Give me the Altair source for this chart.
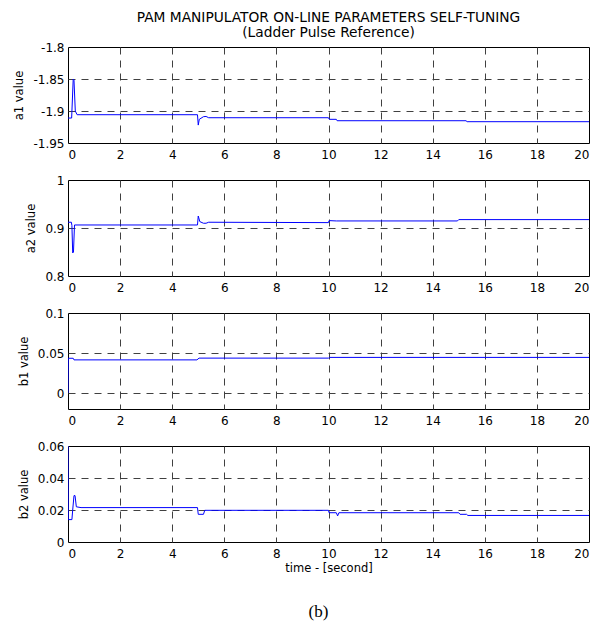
import altair as alt
import pandas as pd

# Time grid and tick labels
x_ticks = [0, 2, 4, 6, 8, 10, 12, 14, 16, 18, 20]

# a1 parameter estimate
a1_t = [0, 0.14, 0.2, 0.23, 0.28, 0.35, 4.97, 5.0, 5.04, 5.2, 5.3, 5.4, 10.0, 10.03, 10.3, 10.33, 15.28, 15.32, 20]
a1_v = [-1.911, -1.911, -1.85, -1.852, -1.9, -1.9058, -1.9058, -1.922, -1.913, -1.9089, -1.9085, -1.9105, -1.9105, -1.913, -1.913, -1.9152, -1.9152, -1.9167, -1.9167]

# a2 parameter estimate
a2_t = [0, 0.13, 0.15, 0.18, 0.21, 0.25, 4.97, 5.0, 5.06, 5.2, 5.3, 5.4, 10.0, 10.02, 10.3, 14.95, 15.0, 20]
a2_v = [0.912, 0.912, 0.905, 0.848, 0.85, 0.9063, 0.9063, 0.925, 0.9133, 0.9099, 0.9099, 0.912, 0.9112, 0.9154, 0.9147, 0.9147, 0.9175, 0.9175]

# b1 parameter estimate
b1_t = [0, 0.01, 0.2, 0.23, 4.95, 5.03, 10.0, 10.03, 20]
b1_v = [0.0, 0.0434, 0.0434, 0.0414, 0.0414, 0.0436, 0.0436, 0.0445, 0.0445]

# b2 parameter estimate
b2_t = [0, 0.01, 0.15, 0.18, 0.23, 0.27, 0.32, 0.5, 4.97, 5.0, 5.2, 5.25, 10.0, 10.02, 10.3, 10.35, 10.4, 15.0, 15.05, 15.3, 15.35, 20]
b2_v = [0.06, 0.014, 0.014, 0.02, 0.029, 0.029, 0.022, 0.0215, 0.0215, 0.0173, 0.0173, 0.0198, 0.0198, 0.0183, 0.0183, 0.0163, 0.0183, 0.0183, 0.0173, 0.0173, 0.0166, 0.0166]

FONT = "DejaVu Sans"
PLOT_W, PLOT_H = 521, 96


def panel(t, v, ylabel, ydomain, yticks, title=None, bottom=False):
    df = pd.DataFrame({"t": t, "v": v})
    lo, hi = ydomain
    x_axis = alt.Axis(
        values=x_ticks,
        title="time - [second]" if bottom else None,
        labelPadding=6,
        titlePadding=3,
        gridOpacity={"condition": {"test": "datum.value <= 0 || datum.value >= 20", "value": 0}, "value": 1},
    )
    y_axis = alt.Axis(
        values=yticks,
        title=ylabel,
        format="~g",
        labelExpr="replace(datum.label, '\u2212', '-')",
        gridOpacity={"condition": {"test": f"datum.value <= {lo} + 1e-9 || datum.value >= {hi} - 1e-9", "value": 0}, "value": 1},
    )
    props = dict(width=PLOT_W, height=PLOT_H)
    if title is not None:
        props["title"] = title
    return (
        alt.Chart(df)
        .mark_line(color="#0000ff", strokeWidth=1, clip=True)
        .encode(
            x=alt.X("t:Q", scale=alt.Scale(domain=[0, 20], nice=False, zero=False), axis=x_axis),
            y=alt.Y("v:Q", scale=alt.Scale(domain=list(ydomain), nice=False, zero=False), axis=y_axis),
        )
        .properties(**props)
    )


top_title = alt.TitleParams(
    text=["PAM MANIPULATOR ON-LINE PARAMETERS SELF-TUNING", "(Ladder Pulse Reference)"],
    font=FONT, fontSize=13.75, fontWeight="normal", color="black",
    anchor="middle", lineHeight=15, offset=1,
)
caption = alt.TitleParams(
    text="(b)", orient="bottom", font="Liberation Serif", fontSize=17,
    fontWeight="normal", color="black", anchor="middle", offset=30, dx=-10,
)

p1 = panel(a1_t, a1_v, "a1 value", (-1.95, -1.8), [-1.95, -1.9, -1.85, -1.8], title=top_title)
p2 = panel(a2_t, a2_v, "a2 value", (0.8, 1.0), [0.8, 0.9, 1.0])
p3 = panel(b1_t, b1_v, "b1 value", (-0.02, 0.1), [0, 0.05, 0.1])
p4 = panel(b2_t, b2_v, "b2 value", (0, 0.06), [0, 0.02, 0.04, 0.06], title=caption, bottom=True)

chart = (
    alt.vconcat(p1, p2, p3, p4, spacing=37, bounds="flush")
    .properties(
        padding={"left": 13, "top": 10, "right": 12, "bottom": 2},
        background="white",
    )
    .configure_view(stroke="black", strokeWidth=1)
    .configure_axis(
        labelFont=FONT, labelFontSize=12, labelColor="black", labelPadding=4,
        titleFont=FONT, titleFontSize=11.5, titleFontWeight="normal", titleColor="black",
        titlePadding=8, domain=False, ticks=False,
        grid=True, gridColor="#404040", gridDash=[7, 6], gridWidth=1,
    )
)

chart.save("out.html", embed_options={"renderer": "svg", "actions": False})
